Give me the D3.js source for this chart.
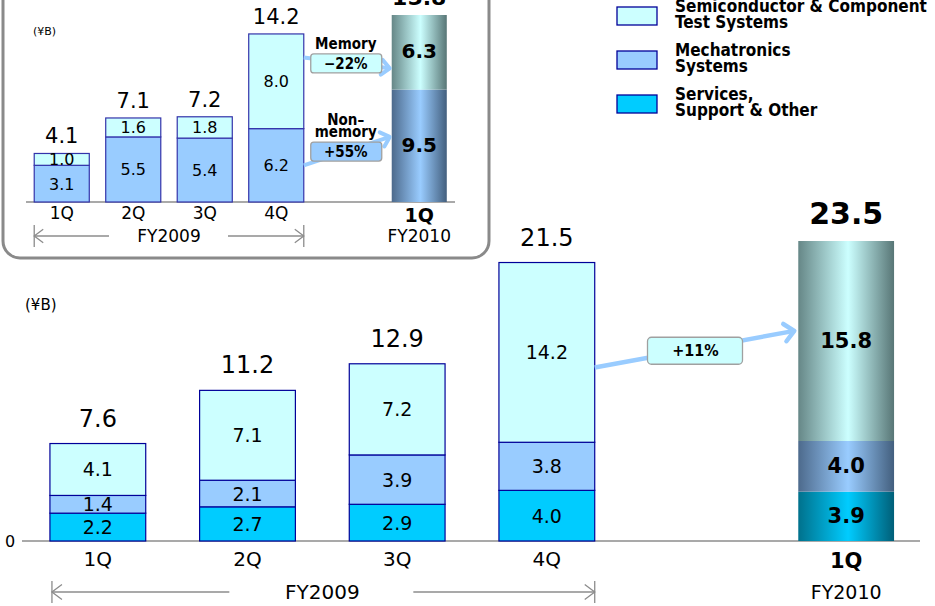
<!DOCTYPE html>
<meta charset="utf-8">

<style>
body { margin: 0; background: #fff; }
svg text { font-family: "DejaVu Sans", sans-serif; fill: #000; }
.legend text, .note text { font-family: "DejaVu Sans Condensed", "DejaVu Sans", sans-serif; font-weight: bold; }
</style>

<svg class="chart"></svg>

<script src="https://d3js.org/d3.v7.min.js"></script>
<script>

  // slots: four quarters of FY2009, an empty slot, then 1Q FY2010
  var slots     = ["q1", "q2", "q3", "q4", "gap", "next"];
  var barSlots  = ["q1", "q2", "q3", "q4", "next"];
  var quarters  = ["1Q", "2Q", "3Q", "4Q", "1Q"];

  // main chart (orders, ¥B)
  var services  = [2.2, 2.7, 2.9, 4.0, 3.9];
  var mechatron = [1.4, 2.1, 3.9, 3.8, 4.0];
  var semis     = [4.1, 7.1, 7.2, 14.2, 15.8];
  var totals    = [7.6, 11.2, 12.9, 21.5, 23.5];

  // inset: semiconductor test systems split
  var nonMemory   = [3.1, 5.5, 5.4, 6.2, 9.5];
  var memory      = [1.0, 1.6, 1.8, 8.0, 6.3];
  var insetTotals = [4.1, 7.1, 7.2, 14.2, 15.8];

  var legendItems = [
    { key: "semis", lines: ["Semiconductor & Component", "Test Systems"] },
    { key: "mech",  lines: ["Mechatronics", "Systems"] },
    { key: "serv",  lines: ["Services,", "Support & Other"] }
  ];

  var colors = {
    semis: { flat: "#ccffff", edge: "#668787", dark: "#587676" },
    mech:  { flat: "#99ccff", edge: "#4d6a8c", dark: "#435f7e" },
    serv:  { flat: "#00ccff", edge: "#00718c", dark: "#005f78" }
  };

  var width  = 935;
  var height = 606;

  var svg = d3.select(".chart")
      .attr("width", width)
      .attr("height", height);

  var defs = svg.append("defs");
  Object.keys(colors).forEach(function(k) {
    var g = defs.append("linearGradient")
        .attr("id", "grad-" + k)
        .attr("x1", 0).attr("x2", 1).attr("y1", 0).attr("y2", 0);
    g.append("stop").attr("offset", "0%").attr("stop-color", colors[k].edge);
    g.append("stop").attr("offset", "52%").attr("stop-color", colors[k].flat);
    g.append("stop").attr("offset", "100%").attr("stop-color", colors[k].dark);
  });

  function stack(rows, keys) {
    // rows: array of arrays of values, keys: series keys bottom->top
    return barSlots.map(function(slot, i) {
      var y0 = 0;
      return keys.map(function(k, j) {
        var v = rows[j][i];
        var seg = { slot: slot, key: k, value: v, y0: y0, y1: y0 + v, last: slot === "next" };
        y0 += v;
        return seg;
      });
    });
  }

  function arrowHead(g, x0, y0, x1, y1, size, color, w) {
    var a = Math.atan2(y1 - y0, x1 - x0);
    var p = d3.path();
    p.moveTo(x1 + size * Math.cos(a + 2.4), y1 + size * Math.sin(a + 2.4));
    p.lineTo(x1, y1);
    p.lineTo(x1 + size * Math.cos(a - 2.4), y1 + size * Math.sin(a - 2.4));
    g.append("path")
        .attr("d", p.toString())
        .attr("fill", "none")
        .attr("stroke", color)
        .attr("stroke-width", w)
        .attr("stroke-linecap", "round")
        .attr("stroke-linejoin", "round");
  }

  function yearSpan(g, x0, x1, y, gapL, gapR, head) {
    g.append("line").attr("x1", x0).attr("x2", x0).attr("y1", y - 11).attr("y2", y + 11);
    g.append("line").attr("x1", x1).attr("x2", x1).attr("y1", y - 11).attr("y2", y + 11);
    g.append("line").attr("x1", x0).attr("x2", gapL).attr("y1", y).attr("y2", y);
    g.append("line").attr("x1", gapR).attr("x2", x1).attr("y1", y).attr("y2", y);
    g.append("path").attr("fill", "none")
        .attr("d", "M" + (x0 + head) + "," + (y - head * 0.75) + "L" + x0 + "," + y + "L" + (x0 + head) + "," + (y + head * 0.75));
    g.append("path").attr("fill", "none")
        .attr("d", "M" + (x1 - head) + "," + (y - head * 0.75) + "L" + x1 + "," + y + "L" + (x1 - head) + "," + (y + head * 0.75));
    g.selectAll("line, path").attr("stroke", "#8c8c8c").attr("stroke-width", 1.3);
  }

  /* ---------------- main chart ---------------- */

  var x = d3.scaleBand()
      .domain(slots)
      .range([23, 921])
      .paddingInner(0.36)
      .paddingOuter(0.18);

  var y = d3.scaleLinear()
      .domain([0, 23.7])
      .range([541, 241]);

  var main = svg.append("g").attr("class", "main");

  main.append("line")
      .attr("x1", 22).attr("x2", 920)
      .attr("y1", y(0)).attr("y2", y(0))
      .attr("stroke", "#8c8c8c").attr("stroke-width", 1.3);

  main.append("text")
      .attr("x", 10).attr("y", y(0) + 6)
      .attr("text-anchor", "middle")
      .style("font-size", "16px")
      .text("0");

  main.append("text")
      .attr("x", 25).attr("y", 310)
      .style("font-size", "15px")
      .text("(¥B)");

  var mainStacks = stack([services, mechatron, semis], ["serv", "mech", "semis"]);

  var bars = main.selectAll("g.bar")
      .data(mainStacks)
    .enter().append("g")
      .attr("class", "bar");

  bars.selectAll("rect")
      .data(function(d) { return d; })
    .enter().append("rect")
      .attr("x", function(d) { return x(d.slot); })
      .attr("width", x.bandwidth())
      .attr("y", function(d) { return y(d.y1); })
      .attr("height", function(d) { return y(d.y0) - y(d.y1); })
      .attr("fill", function(d) { return d.last ? "url(#grad-" + d.key + ")" : colors[d.key].flat; })
      .attr("stroke", function(d) { return d.last ? "none" : "#000099"; })
      .attr("stroke-width", 1.2);

  bars.selectAll("text")
      .data(function(d) { return d; })
    .enter().append("text")
      .attr("x", function(d) { return x(d.slot) + x.bandwidth() / 2; })
      .attr("y", function(d) { return y((d.y0 + d.y1) / 2) + 7; })
      .attr("text-anchor", "middle")
      .style("font-size", function(d) { return d.last ? "21px" : "19px"; })
      .style("font-weight", function(d) { return d.last ? "bold" : "normal"; })
      .text(function(d) { return d.value.toFixed(1); });

  main.selectAll("text.total")
      .data(totals)
    .enter().append("text")
      .attr("class", "total")
      .attr("x", function(d, i) { return x(barSlots[i]) + x.bandwidth() / 2; })
      .attr("y", function(d, i) { return y(d3.sum(mainStacks[i], function(s) { return s.value; })) - 17; })
      .attr("text-anchor", "middle")
      .style("font-size", function(d, i) { return i === 4 ? "30px" : "24px"; })
      .style("font-weight", function(d, i) { return i === 4 ? "bold" : "normal"; })
      .text(function(d) { return d.toFixed(1); });

  main.selectAll("text.tick")
      .data(quarters)
    .enter().append("text")
      .attr("class", "tick")
      .attr("x", function(d, i) { return x(barSlots[i]) + x.bandwidth() / 2; })
      .attr("y", function(d, i) { return i === 4 ? 568 : 566; })
      .attr("text-anchor", "middle")
      .style("font-size", function(d, i) { return i === 4 ? "21px" : "20px"; })
      .style("font-weight", function(d, i) { return i === 4 ? "bold" : "normal"; })
      .text(function(d) { return d; });

  var fyX0 = x("q1"), fyX1 = x("q4") + x.bandwidth();
  var fyMid = (fyX0 + fyX1) / 2;
  yearSpan(main.append("g"), fyX0 + 2, fyX1, 592, fyMid - 93, fyMid + 91, 10);

  main.append("text")
      .attr("x", fyMid).attr("y", 599)
      .attr("text-anchor", "middle")
      .style("font-size", "20px")
      .text("FY2009");

  main.append("text")
      .attr("x", x("next") + x.bandwidth() / 2).attr("y", 599)
      .attr("text-anchor", "middle")
      .style("font-size", "19px")
      .text("FY2010");

  // growth arrow 4Q -> 1Q FY2010
  var gx0 = x("q4") + x.bandwidth(), gy0 = y(13.7);
  var gx1 = x("next") - 4, gy1 = y(16.6);
  var growth = main.append("g").attr("class", "note");
  growth.append("line")
      .attr("x1", gx0).attr("y1", gy0).attr("x2", gx1).attr("y2", gy1)
      .attr("stroke", "#99ccff").attr("stroke-width", 4.5);
  arrowHead(growth, gx0, gy0, gx1, gy1, 13, "#99ccff", 4.5);
  growth.append("rect")
      .attr("x", (gx0 + gx1) / 2 - 47).attr("y", (gy0 + gy1) / 2 - 12)
      .attr("width", 95).attr("height", 27).attr("rx", 4)
      .attr("fill", "#ccffff").attr("stroke", "#a0a0a0").attr("stroke-width", 1.3);
  growth.append("text")
      .attr("x", (gx0 + gx1) / 2 + 1).attr("y", (gy0 + gy1) / 2 + 7)
      .attr("text-anchor", "middle")
      .style("font-size", "16px")
      .text("+11%");

  /* ---------------- inset ---------------- */

  var inset = svg.append("g").attr("class", "inset");

  inset.append("rect")
      .attr("x", 3).attr("y", -30)
      .attr("width", 486).attr("height", 288)
      .attr("rx", 17)
      .attr("fill", "#fff")
      .attr("stroke", "#8a8a8a").attr("stroke-width", 3);

  var ix = d3.scaleBand()
      .domain(slots)
      .range([26, 455])
      .paddingInner(0.23)
      .paddingOuter(0.115);

  var iy = d3.scaleLinear()
      .domain([0, 15.8])
      .range([202, 15]);

  inset.append("line")
      .attr("x1", 26).attr("x2", 455)
      .attr("y1", iy(0)).attr("y2", iy(0))
      .attr("stroke", "#8c8c8c").attr("stroke-width", 1.3);

  inset.append("text")
      .attr("x", 33).attr("y", 35)
      .style("font-size", "11px")
      .text("(¥B)");

  var insetStacks = stack([nonMemory, memory], ["mech", "semis"]);

  var ibars = inset.selectAll("g.bar")
      .data(insetStacks)
    .enter().append("g")
      .attr("class", "bar");

  ibars.selectAll("rect")
      .data(function(d) { return d; })
    .enter().append("rect")
      .attr("x", function(d) { return ix(d.slot); })
      .attr("width", ix.bandwidth())
      .attr("y", function(d) { return iy(d.y1); })
      .attr("height", function(d) { return iy(d.y0) - iy(d.y1); })
      .attr("fill", function(d) { return d.last ? "url(#grad-" + d.key + ")" : colors[d.key].flat; })
      .attr("stroke", function(d) { return d.last ? "none" : "#3333aa"; })
      .attr("stroke-width", 1.2);

  ibars.selectAll("text")
      .data(function(d) { return d; })
    .enter().append("text")
      .attr("x", function(d) { return ix(d.slot) + ix.bandwidth() / 2; })
      .attr("y", function(d) { return iy((d.y0 + d.y1) / 2) + 6; })
      .attr("text-anchor", "middle")
      .style("font-size", function(d) { return d.last ? "20px" : "16px"; })
      .style("font-weight", function(d) { return d.last ? "bold" : "normal"; })
      .text(function(d) { return d.value.toFixed(1); });

  inset.selectAll("text.total")
      .data(insetTotals)
    .enter().append("text")
      .attr("class", "total")
      .attr("x", function(d, i) { return ix(barSlots[i]) + ix.bandwidth() / 2; })
      .attr("y", function(d, i) { return iy(d3.sum(insetStacks[i], function(s) { return s.value; })) - 10; })
      .attr("text-anchor", "middle")
      .style("font-size", function(d, i) { return i === 4 ? "22px" : "21px"; })
      .style("font-weight", function(d, i) { return i === 4 ? "bold" : "normal"; })
      .text(function(d) { return d.toFixed(1); });

  inset.selectAll("text.tick")
      .data(quarters)
    .enter().append("text")
      .attr("class", "tick")
      .attr("x", function(d, i) { return ix(barSlots[i]) + ix.bandwidth() / 2; })
      .attr("y", function(d, i) { return i === 4 ? 222 : 219; })
      .attr("text-anchor", "middle")
      .style("font-size", function(d, i) { return i === 4 ? "19px" : "17px"; })
      .style("font-weight", function(d, i) { return i === 4 ? "bold" : "normal"; })
      .text(function(d) { return d; });

  var ifx0 = ix("q1"), ifx1 = ix("q4") + ix.bandwidth();
  var ifMid = (ifx0 + ifx1) / 2;
  yearSpan(inset.append("g"), ifx0, ifx1, 236, ifMid - 60, ifMid + 59, 9);

  inset.append("text")
      .attr("x", ifMid).attr("y", 242)
      .attr("text-anchor", "middle")
      .style("font-size", "17px")
      .text("FY2009");

  inset.append("text")
      .attr("x", ix("next") + ix.bandwidth() / 2).attr("y", 242)
      .attr("text-anchor", "middle")
      .style("font-size", "17px")
      .text("FY2010");

  // memory / non-memory arrows
  var splits = [
    { label: ["Memory"], pct: "\u221222%", fill: "#ccffff", from: 12.2, to: 11.3 },
    { label: ["Non\u2013", "memory"], pct: "+55%", fill: "#99ccff", from: 3.1, to: 5.5 }
  ];

  var sx0 = ix("q4") + ix.bandwidth(), sx1 = ix("next") - 2;

  splits.forEach(function(s) {
    var g = inset.append("g").attr("class", "note");
    var y0 = iy(s.from), y1 = iy(s.to);
    var cx = (sx0 + sx1) / 2 - 1, cy = (y0 + y1) / 2;
    g.append("line")
        .attr("x1", sx0).attr("y1", y0).attr("x2", sx1).attr("y2", y1)
        .attr("stroke", "#99ccff").attr("stroke-width", 4);
    arrowHead(g, sx0, y0, sx1, y1, 11, "#99ccff", 4);
    g.append("rect")
        .attr("x", cx - 35).attr("y", cy - 9)
        .attr("width", 71).attr("height", 19).attr("rx", 3)
        .attr("fill", s.fill).attr("stroke", "#a0a0a0").attr("stroke-width", 1.3);
    g.append("text")
        .attr("x", cx).attr("y", cy + 6)
        .attr("text-anchor", "middle")
        .style("font-size", "15px")
        .text(s.pct);
    g.selectAll("text.lab")
        .data(s.label)
      .enter().append("text")
        .attr("class", "lab")
        .attr("x", cx)
        .attr("y", function(d, i) { return cy - 14 - (s.label.length - 1 - i) * 12; })
        .attr("text-anchor", "middle")
        .style("font-size", "15px")
        .text(function(d) { return d; });
  });

  /* ---------------- legend ---------------- */

  var legend = svg.append("g")
      .attr("class", "legend")
      .attr("transform", "translate(617,7)");

  var item = legend.selectAll("g")
      .data(legendItems)
    .enter().append("g")
      .attr("transform", function(d, i) { return "translate(0," + (i * 44) + ")"; });

  item.append("rect")
      .attr("width", 40).attr("height", 18)
      .attr("fill", function(d) { return colors[d.key].flat; })
      .attr("stroke", "#000099").attr("stroke-width", 1.3);

  item.selectAll("text")
      .data(function(d) { return d.lines; })
    .enter().append("text")
      .attr("x", 58)
      .attr("y", function(d, i) { return 5 + i * 16; })
      .style("font-size", "17px")
      .text(function(d) { return d; });

</script>
